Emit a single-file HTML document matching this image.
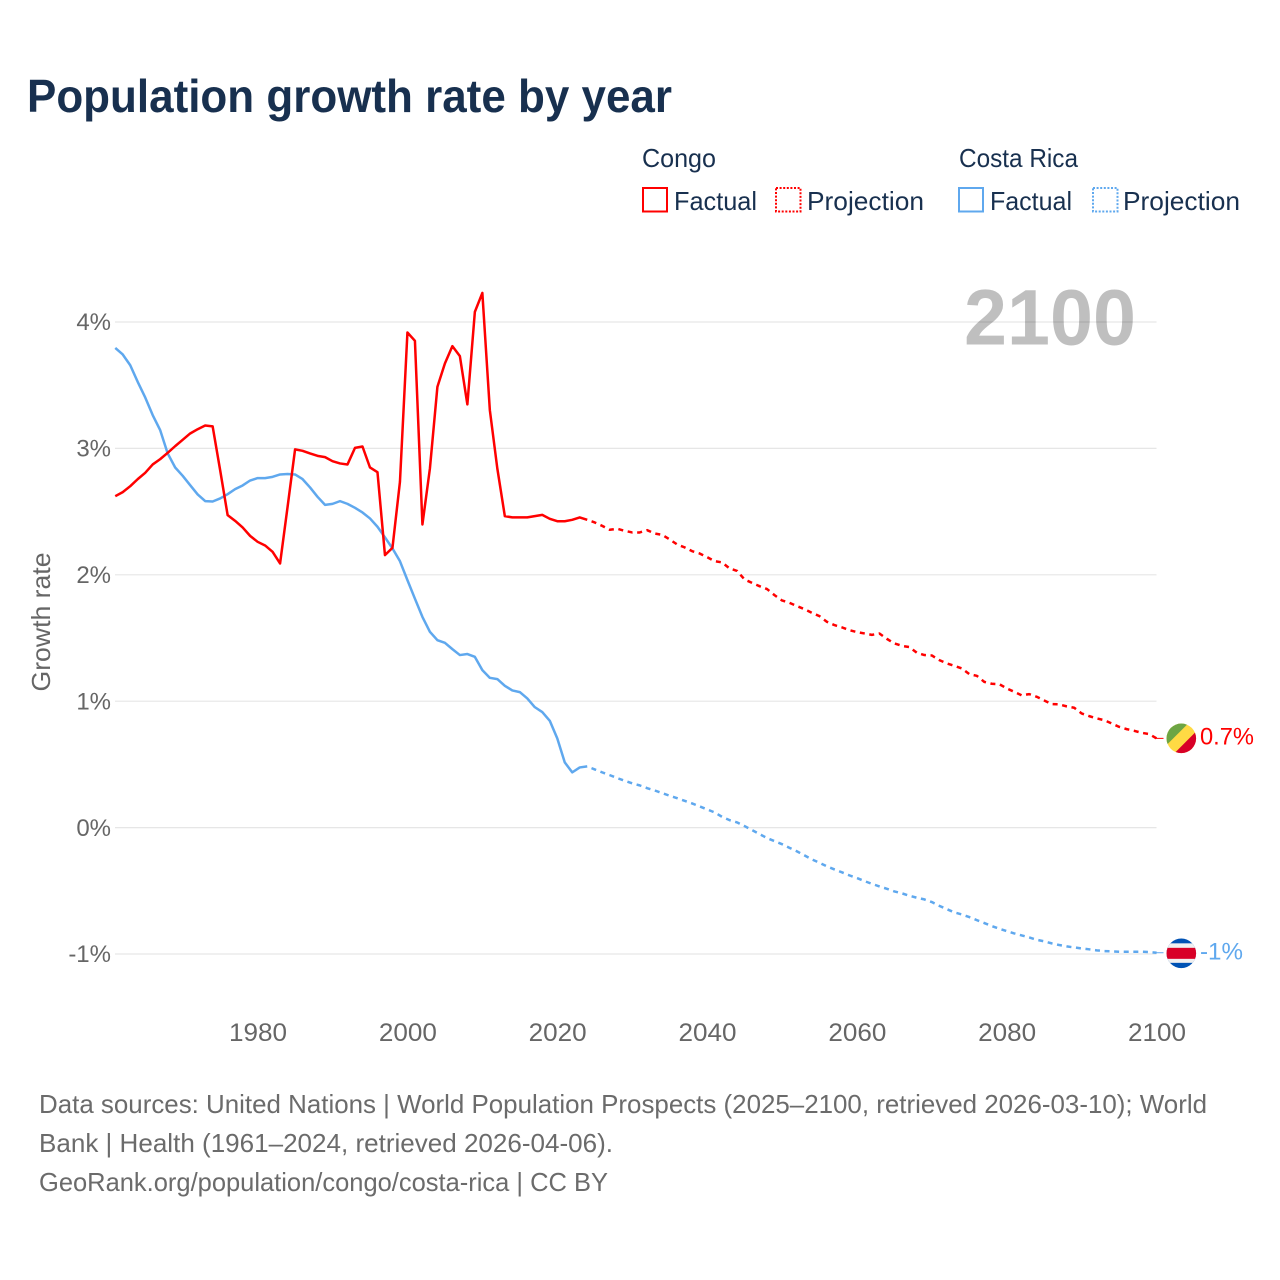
<!DOCTYPE html>
<html lang="en">
<head>
<meta charset="utf-8">
<title>Population growth rate by year</title>
<style>
html,body{margin:0;padding:0;background:#fff;width:1280px;height:1280px;overflow:hidden}
svg{display:block}
text{font-family:"Liberation Sans",sans-serif}
</style>
</head>
<body>
<svg id="chart" width="1280" height="1280" viewBox="0 0 1280 1280" xmlns="http://www.w3.org/2000/svg">
  <rect width="1280" height="1280" fill="#fff"/>
  <text x="27" y="112" font-size="46" font-weight="700" fill="#18304f" textLength="645" lengthAdjust="spacingAndGlyphs">Population growth rate by year</text>

  <g font-size="26" fill="#18304f">
    <text x="642" y="167" textLength="74" lengthAdjust="spacingAndGlyphs">Congo</text>
    <text x="959" y="167" textLength="119" lengthAdjust="spacingAndGlyphs">Costa Rica</text>
    <rect x="643" y="188" width="24" height="23.5" fill="none" stroke="#ff0000" stroke-width="2"/>
    <text x="674" y="210" textLength="83" lengthAdjust="spacingAndGlyphs">Factual</text>
    <rect x="776" y="188" width="24.5" height="23.5" fill="none" stroke="#ff0000" stroke-width="2" stroke-dasharray="2 1.6"/>
    <text x="807" y="210" textLength="117" lengthAdjust="spacingAndGlyphs">Projection</text>
    <rect x="959" y="188" width="24" height="23.5" fill="none" stroke="#5fa8ee" stroke-width="2"/>
    <text x="990" y="210" textLength="82" lengthAdjust="spacingAndGlyphs">Factual</text>
    <rect x="1093" y="188" width="24.5" height="23.5" fill="none" stroke="#5fa8ee" stroke-width="2" stroke-dasharray="2 1.6"/>
    <text x="1123" y="210" textLength="117" lengthAdjust="spacingAndGlyphs">Projection</text>
  </g>

  <g id="grid"></g>
  <g id="yticks"></g>
  <g id="xticks"></g>

  <text transform="translate(50,622) rotate(-90)" text-anchor="middle" font-size="26" fill="#666" textLength="139" lengthAdjust="spacingAndGlyphs">Growth rate</text>

  <text x="964" y="344.5" font-size="79" font-weight="700" fill="#000" fill-opacity="0.25" textLength="172" lengthAdjust="spacingAndGlyphs">2100</text>

  <g id="series"></g>

  <clipPath id="flag-clip"><circle cx="0" cy="0" r="14.8"/></clipPath>
  <g id="flag-congo">
    <g clip-path="url(#flag-clip)">
      <rect x="-16" y="-16" width="32" height="32" fill="#ffda44"/>
      <polygon points="-16,-16 8,-16 -16,8" fill="#6da544"/>
      <polygon points="16,-8 16,16 -8,16" fill="#d80027"/>
    </g>
  </g>
  <g id="flag-costa-rica">
    <g clip-path="url(#flag-clip)">
      <rect x="-16" y="-16" width="32" height="32" fill="#0052b4"/>
      <rect x="-16" y="-10" width="32" height="19.5" fill="#f0f0f0"/>
      <rect x="-16" y="-5.5" width="32" height="11" fill="#d80027"/>
    </g>
  </g>
  <text id="value-congo" x="1200" font-size="24" fill="#ff0000" textLength="54" lengthAdjust="spacingAndGlyphs"></text>
  <text id="value-costa-rica" x="1200" font-size="24" fill="#5fa8ee" textLength="43" lengthAdjust="spacingAndGlyphs"></text>

  <g font-size="26" fill="#6b6b6b">
    <text x="39" y="1113" textLength="1168" lengthAdjust="spacingAndGlyphs">Data sources: United Nations | World Population Prospects (2025–2100, retrieved 2026-03-10); World</text>
    <text x="39" y="1152" textLength="574" lengthAdjust="spacingAndGlyphs">Bank | Health (1961–2024, retrieved 2026-04-06).</text>
    <text x="39" y="1191" textLength="569" lengthAdjust="spacingAndGlyphs">GeoRank.org/population/congo/costa-rica | CC BY</text>
  </g>
</svg>
<script>
var factualStartYear = 1961;
var projectionStartYear = 2025;

var congoFactual = [2.622,2.654,2.701,2.757,2.807,2.873,2.915,2.965,3.018,3.068,3.118,3.152,3.181,3.174,2.828,2.472,2.427,2.375,2.308,2.261,2.232,2.182,2.090,2.537,2.992,2.981,2.960,2.941,2.931,2.899,2.881,2.873,3.004,3.015,2.849,2.812,2.156,2.213,2.735,3.917,3.851,2.398,2.841,3.487,3.672,3.809,3.730,3.348,4.080,4.230,3.303,2.841,2.464,2.454,2.454,2.454,2.464,2.474,2.443,2.424,2.424,2.435,2.454,2.435];

var congoProjection = [2.414,2.387,2.356,2.364,2.348,2.335,2.335,2.353,2.327,2.316,2.280,2.240,2.217,2.187,2.169,2.140,2.108,2.098,2.050,2.031,1.963,1.936,1.910,1.887,1.839,1.797,1.778,1.752,1.728,1.699,1.673,1.628,1.602,1.584,1.562,1.547,1.536,1.525,1.536,1.493,1.457,1.438,1.428,1.383,1.365,1.362,1.325,1.299,1.280,1.259,1.214,1.201,1.153,1.138,1.135,1.101,1.074,1.046,1.056,1.035,1.006,0.977,0.975,0.959,0.948,0.903,0.882,0.864,0.850,0.824,0.797,0.779,0.766,0.750,0.740,0.706];

var costaRicaFactual = [3.795,3.743,3.658,3.526,3.403,3.263,3.144,2.960,2.849,2.783,2.709,2.636,2.583,2.580,2.604,2.638,2.678,2.707,2.746,2.765,2.765,2.775,2.794,2.797,2.794,2.757,2.691,2.617,2.553,2.561,2.583,2.561,2.530,2.493,2.446,2.380,2.296,2.209,2.108,1.958,1.811,1.667,1.549,1.483,1.462,1.412,1.365,1.373,1.351,1.246,1.185,1.175,1.122,1.085,1.072,1.022,0.953,0.914,0.845,0.706,0.516,0.437,0.476,0.484];

var costaRicaProjection = [0.460,0.437,0.415,0.392,0.370,0.350,0.334,0.312,0.294,0.273,0.252,0.233,0.212,0.191,0.168,0.144,0.120,0.085,0.059,0.041,0.012,-0.020,-0.051,-0.083,-0.107,-0.131,-0.160,-0.188,-0.220,-0.252,-0.278,-0.307,-0.331,-0.354,-0.378,-0.399,-0.423,-0.445,-0.465,-0.484,-0.505,-0.520,-0.539,-0.555,-0.568,-0.589,-0.619,-0.645,-0.671,-0.687,-0.708,-0.732,-0.755,-0.779,-0.800,-0.819,-0.837,-0.853,-0.869,-0.888,-0.900,-0.916,-0.929,-0.940,-0.948,-0.956,-0.963,-0.971,-0.977,-0.979,-0.982,-0.982,-0.982,-0.982,-0.984,-0.990];

var yTickValues = [4,3,2,1,0,-1];
var yTickLabels = ["4%","3%","2%","1%","0%","-1%"];
var xTickValues = [1980,2000,2020,2040,2060,2080,2100];
var xTickLabels = ["1980","2000","2020","2040","2060","2080","2100"];
var endValueLabels = ["0.7%","-1%"];

var NS = "http://www.w3.org/2000/svg";
function xScale(year){ return 257.6 + (year - 1980) * 7.4917; }
function yScale(pct){ return 827.6 - pct * 126.4; }

function linePath(startYear, values, prefix){
  var d = prefix || "";
  for (var i = 0; i < values.length; i++){
    d += (d ? "L" : "M") + xScale(startYear + i).toFixed(2) + " " + yScale(values[i]).toFixed(2);
  }
  return d;
}

var gridG = document.getElementById("grid");
var yG = document.getElementById("yticks");
yTickValues.forEach(function(v, i){
  var l = document.createElementNS(NS, "line");
  
  
  l.setAttribute("x1", 115);
  l.setAttribute("x2", 1156.5);
  l.setAttribute("y1", yScale(v));
  l.setAttribute("y2", yScale(v));
  l.setAttribute("stroke", "#e6e6e6");
  l.setAttribute("stroke-width", "1.2");
  gridG.appendChild(l);
  var t = document.createElementNS(NS, "text");
  
  
  t.setAttribute("x", 111);
  t.setAttribute("y", yScale(v) + 8.2);
  t.setAttribute("text-anchor", "end");
  t.setAttribute("font-size", "24");
  t.setAttribute("fill", "#666");
  t.textContent = yTickLabels[i];
  yG.appendChild(t);
});

var xG = document.getElementById("xticks");
xTickValues.forEach(function(v, i){
  var t = document.createElementNS(NS, "text");
  
  
  t.setAttribute("x", xScale(v) + 0.4);
  t.setAttribute("y", 1041);
  t.setAttribute("text-anchor", "middle");
  t.setAttribute("font-size", "25");
  t.setAttribute("fill", "#666");
  t.setAttribute("textLength", "58");
  t.setAttribute("lengthAdjust", "spacingAndGlyphs");
  t.textContent = xTickLabels[i];
  xG.appendChild(t);
});

var seriesG = document.getElementById("series");
function addLine(name, d, color, dashed){
  var p = document.createElementNS(NS, "path");
  
  
  p.setAttribute("d", d);
  p.setAttribute("fill", "none");
  p.setAttribute("stroke", color);
  p.setAttribute("stroke-width", "2.5");
  p.setAttribute("stroke-linejoin", "round");
  if (dashed){
    p.setAttribute("stroke-dasharray", "5 4.6");
    p.setAttribute("stroke-dashoffset", "5");
  }
  seriesG.appendChild(p);
}
var RED = "#ff0000", BLUE = "#5fa8ee";
function lastOf(a){ return a[a.length - 1]; }
function projStart(fact){ return "M" + xScale(factualStartYear + fact.length - 1).toFixed(2) + " " + yScale(lastOf(fact)).toFixed(2); }

addLine("line-costa-rica-factual", linePath(factualStartYear, costaRicaFactual), BLUE, false);
addLine("line-congo-factual", linePath(factualStartYear, congoFactual), RED, false);
addLine("line-costa-rica-projection", linePath(projectionStartYear, costaRicaProjection, projStart(costaRicaFactual)), BLUE, true);
addLine("line-congo-projection", linePath(projectionStartYear, congoProjection, projStart(congoFactual)), RED, true);

function addConnector(name, v, color){
  var l = document.createElementNS(NS, "line");
  
  
  l.setAttribute("x1", xScale(2100) - 2);
  l.setAttribute("x2", 1163.5);
  l.setAttribute("y1", yScale(v));
  l.setAttribute("y2", yScale(v));
  l.setAttribute("stroke", color);
  l.setAttribute("stroke-width", "1");
  seriesG.appendChild(l);
}
var congoEnd = lastOf(congoProjection), costaEnd = lastOf(costaRicaProjection);
addConnector("connector-congo", congoEnd, RED);
addConnector("connector-costa-rica", costaEnd, BLUE);

document.getElementById("flag-congo").setAttribute("transform", "translate(1181.3," + yScale(congoEnd) + ")");
document.getElementById("flag-costa-rica").setAttribute("transform", "translate(1181.3," + (yScale(costaEnd) + 0.6) + ")");
var vc = document.getElementById("value-congo");
vc.setAttribute("y", yScale(congoEnd) + 6.2);
vc.textContent = endValueLabels[0];
var vr = document.getElementById("value-costa-rica");
vr.setAttribute("y", yScale(costaEnd) + 7);
vr.textContent = endValueLabels[1];
</script>
</body>
</html>
